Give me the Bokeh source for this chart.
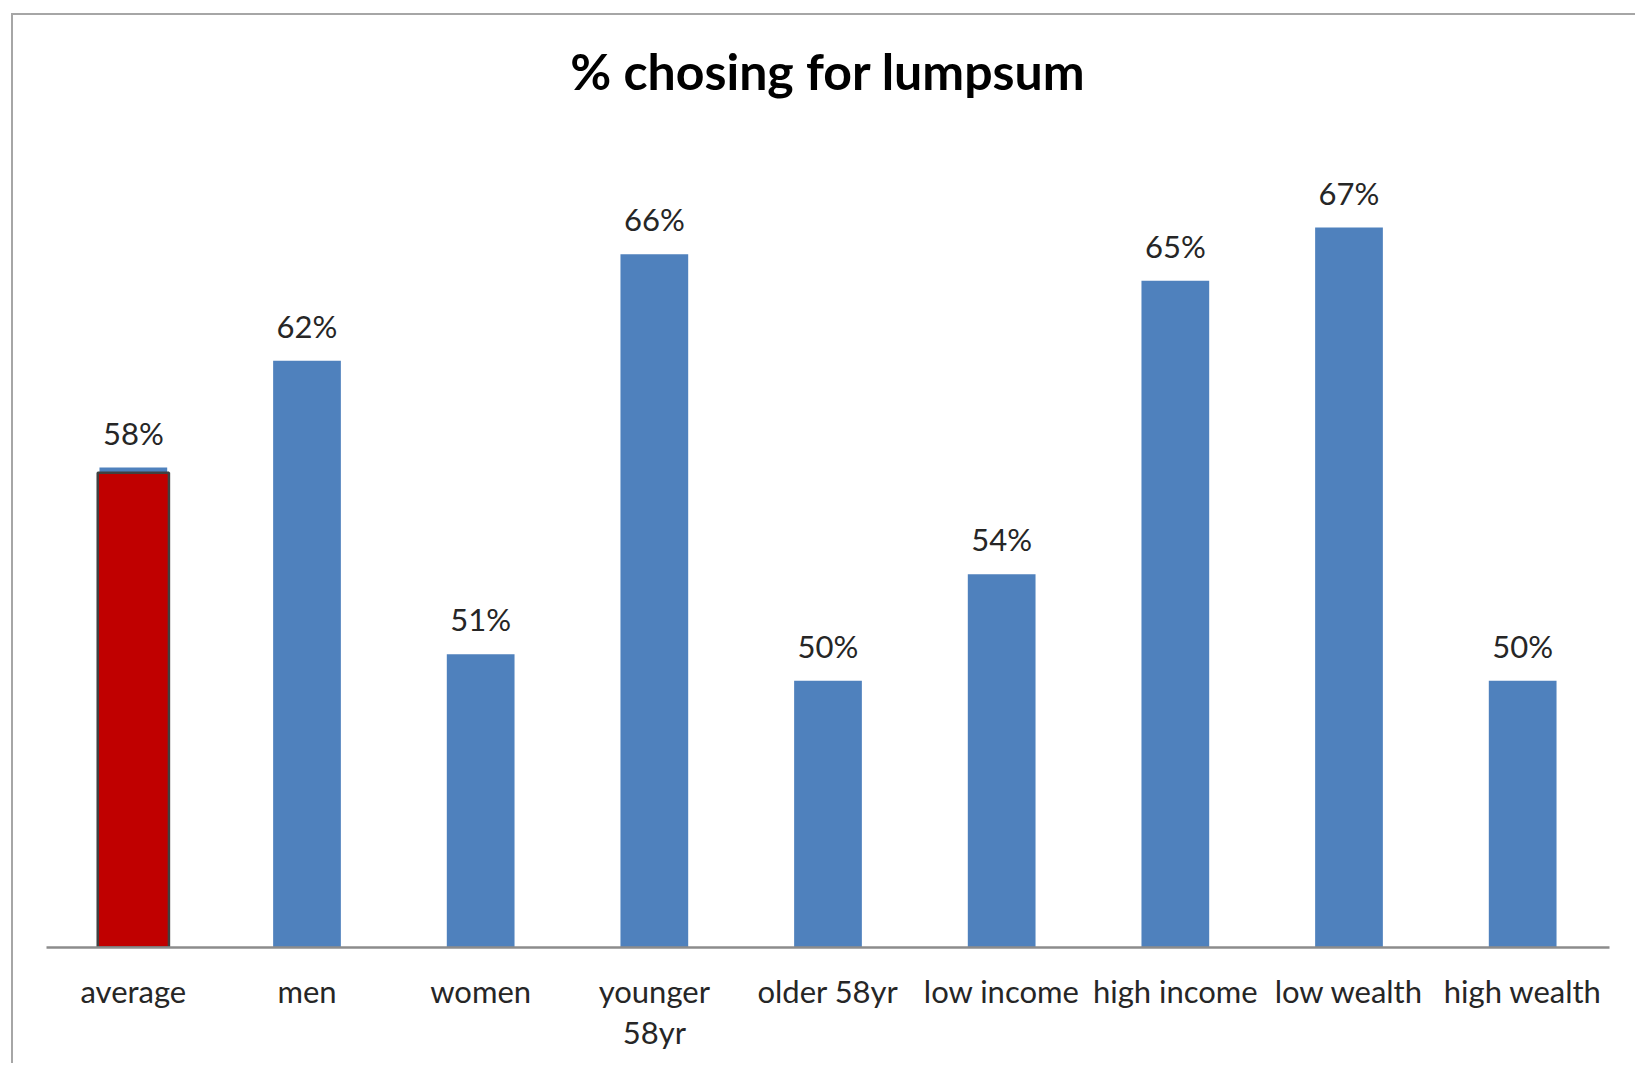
from bokeh.plotting import figure
from bokeh.models import Range1d, ColumnDataSource, LinearAxis, FixedTicker, Label
from bokeh.core.properties import value
from bokeh.embed import file_html
from bokeh.resources import INLINE

# Share of respondents choosing a lump sum, by group
categories = ["average", "men", "women", "younger 58yr", "older 58yr",
              "low income", "high income", "low wealth", "high wealth"]
shares = [58, 62, 51, 66, 50, 54, 65, 67, 50]
share_labels = ["58%", "62%", "51%", "66%", "50%", "54%", "65%", "67%", "50%"]
title_text = "% chosing for lumpsum"

# category names that wrap onto a second line under the axis
wrapped = {"younger 58yr": ("younger", "58yr")}

BLUE = "#4F81BD"
RED = "#C00000"
FONT = "Lato"
LABEL_COLOR = "#262626"

# canvas size and borders (px)
W, H = 1624, 1050
BORDER_L, BORDER_R, BORDER_B = 33, 28, 118
Y_MIN = 40
PX_PER_PCT = 800 / 30          # vertical scale of the value axis
TITLE_ANCHOR = 55              # title anchor, px below the top of the canvas

frame_h = H - BORDER_B
y_max = Y_MIN + frame_h / PX_PER_PCT

pos = list(range(len(categories)))
source = ColumnDataSource(data=dict(pos=pos, cat=categories, share=shares, label=share_labels))

p = figure(
    x_range=Range1d(-0.5, len(categories) - 0.5),
    y_range=Range1d(Y_MIN, y_max),
    width=W, height=H,
    output_backend="svg", toolbar_location=None,
    x_axis_location=None,
    min_border_left=BORDER_L, min_border_right=BORDER_R,
    min_border_top=0, min_border_bottom=BORDER_B,
)
p.styles = {
    "margin-left": "11px", "margin-top": "13px",
    "border-left": "2px solid #a6a6a6", "border-top": "2px solid #a6a6a6",
}

# bars
p.vbar(x="pos", top="share", bottom=Y_MIN, width=0.39, source=source,
       fill_color=BLUE, line_color=None)

# highlighted average bar sits just under the blue cap
p.vbar(x=[pos[0]], top=[shares[0] - 0.2], bottom=Y_MIN, width=0.41,
       fill_color=RED, line_color="#404040", line_width=2.5)

# value labels above each bar
p.text(x="pos", y="share", text="label", source=source,
       text_align="center", text_baseline="alphabetic", y_offset=-35,
       text_font=value(FONT), text_font_size="31px", text_color=LABEL_COLOR)

# chart title, centred over the plot area
title = Label(
    x=(p.x_range.start + p.x_range.end) / 2,
    y=Y_MIN + (frame_h - TITLE_ANCHOR) / PX_PER_PCT,
    text=title_text, text_align="center", text_baseline="alphabetic",
    text_font=FONT, text_font_size="50px", text_font_style="bold",
    text_color="#000000",
)
p.add_layout(title)

# category axis: first line of each name, then the wrapped remainder
first_line = {i: wrapped[c][0] if c in wrapped else c for i, c in zip(pos, categories)}
second_line = {i: wrapped[c][1] if c in wrapped else "" for i, c in zip(pos, categories)}

def category_axis(overrides, standoff, line_color):
    return LinearAxis(
        ticker=FixedTicker(ticks=pos, minor_ticks=[]),
        major_label_overrides=overrides,
        axis_line_color=line_color, axis_line_width=2.5,
        major_tick_line_color=None, minor_tick_line_color=None,
        major_label_text_font=FONT, major_label_text_font_size="31px",
        major_label_text_color=LABEL_COLOR, major_label_standoff=standoff,
    )

p.add_layout(category_axis(first_line, 18, "#8c8c8c"), "below")
p.add_layout(category_axis(second_line, -6, None), "below")

p.yaxis.visible = False
p.xgrid.grid_line_color = None
p.ygrid.grid_line_color = None
p.outline_line_color = None
p.background_fill_color = "white"
p.border_fill_color = "white"

open("out.html", "w").write(file_html(p, INLINE))
